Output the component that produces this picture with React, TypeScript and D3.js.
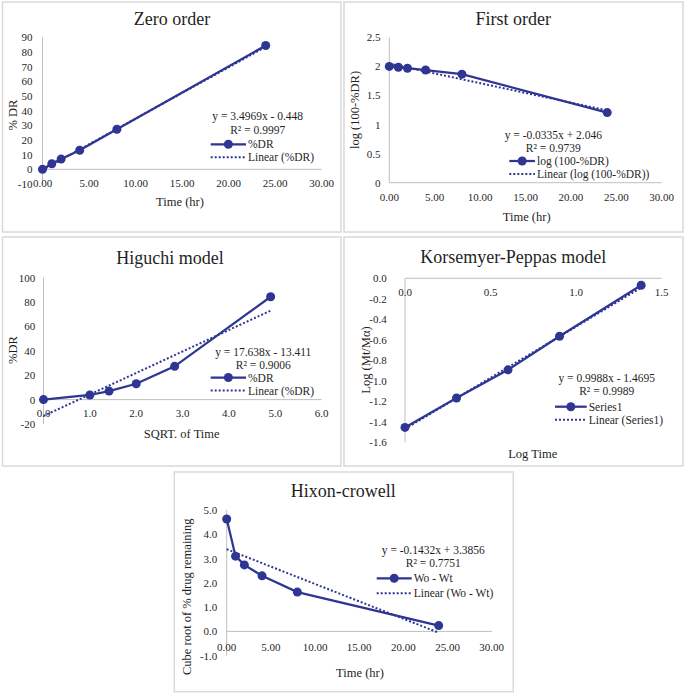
import React from "react";
import * as d3 from "d3";

// ---------- data ----------
const timeHr = [0, 1, 2, 4, 8, 24];
const zeroOrderDR = [0, 3.8, 7, 13, 27.3, 84.4];
const zeroOrderFit = [3.4969, -0.448];

const firstOrderLog = [2.0, 1.985, 1.968, 1.937, 1.866, 1.205];
const firstOrderFit = [-0.0335, 2.046];

const sqrtTime = [0, 1, 1.414, 2, 2.828, 4.899];
const higuchiDR = [0, 3.8, 7, 13, 27.3, 84.4];
const higuchiFit = [17.638, -13.411];

const logTime = [0, 0.301, 0.602, 0.903, 1.38];
const peppasLogFrac = [-1.455, -1.168, -0.893, -0.565, -0.068];
const peppasFit = [0.9988, -1.4695];

const hixonCubeRoot = [4.63, 3.1, 2.74, 2.29, 1.62, 0.24];
const hixonFit = [-0.1432, 3.3856];

const ticks30 = [0, 5, 10, 15, 20, 25, 30];
const ticksZeroY = [-10, 0, 10, 20, 30, 40, 50, 60, 70, 80, 90];
const ticksFirstY = [0, 0.5, 1, 1.5, 2, 2.5];
const ticksHigX = [0, 1, 2, 3, 4, 5, 6];
const ticksHigY = [-20, 0, 20, 40, 60, 80, 100];
const ticksPepX = [0, 0.5, 1, 1.5];
const ticksPepY = [-1.6, -1.4, -1.2, -1.0, -0.8, -0.6, -0.4, -0.2, 0.0];
const ticksHixY = [-1, 0, 1, 2, 3, 4, 5];

const BLUE = "#2e3592";
const TXT = "#1f1f1f";
const FONT = "'Liberation Serif', 'Times New Roman', serif";

type Cfg = {
  box: [number, number, number, number];
  title: string;
  titleX: number;
  titleY: number;
  xDomain: [number, number];
  xRange: [number, number];
  yDomain: [number, number];
  yRange: [number, number];
  xTicks: number[];
  xFmt: (v: number) => string;
  yTicks: number[];
  yFmt: (v: number) => string;
  xLabelOffset: number;
  yLabelGap: number;
  xTitle: string;
  xTitlePos: [number, number];
  yTitle: string;
  yTitlePos: [number, number];
  xs: number[];
  ys: number[];
  fit: number[];
  eq: string;
  r2: string;
  eqPos: [number, number];
  r2Y: number;
  legX: [number, number];
  legY: [number, number];
  name: string;
  trendName: string;
};

function Panel({ c }: { c: Cfg }) {
  const x = d3.scaleLinear().domain(c.xDomain).range(c.xRange);
  const y = d3.scaleLinear().domain(c.yDomain).range(c.yRange);
  const line = d3
    .line<number>()
    .x((_, i) => x(c.xs[i]))
    .y((d) => y(d));
  const xmin = d3.min(c.xs) as number;
  const xmax = d3.max(c.xs) as number;
  const trend = d3
    .line<number>()
    .x((d) => x(d))
    .y((d) => y(c.fit[0] * d + c.fit[1]));
  const [bx0, by0, bx1, by1] = c.box;
  const y0 = y(0);
  const ax = x(0);
  return (
    <g fontFamily={FONT} fill={TXT}>
      <rect x={bx0} y={by0} width={bx1 - bx0} height={by1 - by0} fill="#fff" stroke="#d9d9d9" strokeWidth={1.5} />
      <text x={c.titleX} y={c.titleY} fontSize={18} textAnchor="middle" dominantBaseline="central">
        {c.title}
      </text>
      {/* axes */}
      <line x1={ax} x2={ax} y1={c.yRange[0]} y2={c.yRange[1]} stroke="#bfbfbf" strokeWidth={1} />
      <line x1={c.xRange[0]} x2={c.xRange[1]} y1={y0} y2={y0} stroke="#bfbfbf" strokeWidth={1} />
      {c.yTicks.map((t) => (
        <text key={"y" + t} x={ax - c.yLabelGap} y={y(t)} fontSize={11} textAnchor="end" dominantBaseline="central">
          {c.yFmt(t)}
        </text>
      ))}
      {c.xTicks.map((t) => (
        <text key={"x" + t} x={x(t)} y={y0 + c.xLabelOffset} fontSize={11} textAnchor="middle" dominantBaseline="central">
          {c.xFmt(t)}
        </text>
      ))}
      {/* trend */}
      <path d={trend([xmin, xmax]) || ""} fill="none" stroke={BLUE} strokeWidth={2} strokeDasharray="2 2" />
      {/* series */}
      <path d={line(c.ys) || ""} fill="none" stroke={BLUE} strokeWidth={2.25} />
      {c.ys.map((v, i) => (
        <circle key={i} cx={x(c.xs[i])} cy={y(v)} r={4.5} fill={BLUE} />
      ))}
      {/* axis titles */}
      <text x={c.xTitlePos[0]} y={c.xTitlePos[1]} fontSize={12.5} textAnchor="middle" dominantBaseline="central">
        {c.xTitle}
      </text>
      <text
        transform={`translate(${c.yTitlePos[0]},${c.yTitlePos[1]}) rotate(-90)`}
        fontSize={12.5}
        textAnchor="middle"
        dominantBaseline="central"
      >
        {c.yTitle}
      </text>
      {/* equation */}
      <text x={c.eqPos[0]} y={c.eqPos[1]} fontSize={11.5} textAnchor="middle" dominantBaseline="central">
        {c.eq}
      </text>
      <text x={c.eqPos[0]} y={c.r2Y} fontSize={11.5} textAnchor="middle" dominantBaseline="central">
        {c.r2}
      </text>
      {/* legend */}
      <line x1={c.legX[0]} x2={c.legX[1]} y1={c.legY[0]} y2={c.legY[0]} stroke={BLUE} strokeWidth={2.25} />
      <circle cx={(c.legX[0] + c.legX[1]) / 2} cy={c.legY[0]} r={4.5} fill={BLUE} />
      <text x={c.legX[1] + 2} y={c.legY[0]} fontSize={11.5} dominantBaseline="central">
        {c.name}
      </text>
      <line x1={c.legX[0]} x2={c.legX[1]} y1={c.legY[1]} y2={c.legY[1]} stroke={BLUE} strokeWidth={2} strokeDasharray="2 2" />
      <text x={c.legX[1] + 2} y={c.legY[1]} fontSize={11.5} dominantBaseline="central">
        {c.trendName}
      </text>
    </g>
  );
}

const f2 = (v: number) => v.toFixed(2);
const f1 = (v: number) => v.toFixed(1);
const f0 = (v: number) => String(v);

const panels: Cfg[] = [
  {
    box: [2.5, 2, 341, 232],
    title: "Zero order",
    titleX: 172,
    titleY: 18.5,
    xDomain: [0, 30],
    xRange: [42.5, 321.5],
    yDomain: [-10, 90],
    yRange: [184, 37.3],
    xTicks: ticks30,
    xFmt: f2,
    yTicks: ticksZeroY,
    yFmt: f0,
    xLabelOffset: 13.5,
    yLabelGap: 10,
    xTitle: "Time (hr)",
    xTitlePos: [180, 201.5],
    yTitle: "% DR",
    yTitlePos: [12.7, 115],
    xs: timeHr,
    ys: zeroOrderDR,
    fit: zeroOrderFit,
    eq: "y = 3.4969x - 0.448",
    r2: "R² = 0.9997",
    eqPos: [257.7, 116.2],
    r2Y: 129.5,
    legX: [210.7, 246],
    legY: [144.3, 157.3],
    name: "%DR",
    trendName: "Linear (%DR)",
  },
  {
    box: [344, 2, 683, 232],
    title: "First order",
    titleX: 513.3,
    titleY: 18.5,
    xDomain: [0, 30],
    xRange: [389.3, 661.7],
    yDomain: [0, 2.5],
    yRange: [182.7, 37.3],
    xTicks: ticks30,
    xFmt: f2,
    yTicks: ticksFirstY,
    yFmt: f0,
    xLabelOffset: 14,
    yLabelGap: 8.7,
    xTitle: "Time (hr)",
    xTitlePos: [526.7, 216.7],
    yTitle: "log (100-%DR)",
    yTitlePos: [355, 110],
    xs: timeHr,
    ys: firstOrderLog,
    fit: firstOrderFit,
    eq: "y = -0.0335x + 2.046",
    r2: "R² = 0.9739",
    eqPos: [553.3, 134.5],
    r2Y: 147.5,
    legX: [509.3, 535],
    legY: [161, 174],
    name: "log (100-%DR)",
    trendName: "Linear (log (100-%DR))",
  },
  {
    box: [2.5, 237, 341, 466],
    title: "Higuchi model",
    titleX: 170,
    titleY: 258.3,
    xDomain: [0, 6],
    xRange: [43.5, 321.7],
    yDomain: [-20, 100],
    yRange: [424, 277.7],
    xTicks: ticksHigX,
    xFmt: f1,
    yTicks: ticksHigY,
    yFmt: f0,
    xLabelOffset: 13.7,
    yLabelGap: 8.3,
    xTitle: "SQRT. of Time",
    xTitlePos: [181.7, 434],
    yTitle: "%DR",
    yTitlePos: [12.7, 350],
    xs: sqrtTime,
    ys: higuchiDR,
    fit: higuchiFit,
    eq: "y = 17.638x - 13.411",
    r2: "R² = 0.9006",
    eqPos: [263.3, 352.2],
    r2Y: 365.2,
    legX: [210.7, 246],
    legY: [377.5, 390.5],
    name: "%DR",
    trendName: "Linear (%DR)",
  },
  {
    box: [344, 237, 683, 466],
    title: "Korsemyer-Peppas model",
    titleX: 513.3,
    titleY: 257.3,
    xDomain: [0, 1.5],
    xRange: [405, 661.7],
    yDomain: [-1.6, 0],
    yRange: [442.3, 278.3],
    xTicks: ticksPepX,
    xFmt: f1,
    yTicks: ticksPepY,
    yFmt: f1,
    xLabelOffset: 13.4,
    yLabelGap: 18.3,
    xTitle: "Log Time",
    xTitlePos: [532.7, 454],
    yTitle: "Log (Mt/Mα)",
    yTitlePos: [366, 360],
    xs: logTime,
    ys: peppasLogFrac,
    fit: peppasFit,
    eq: "y = 0.9988x - 1.4695",
    r2: "R² = 0.9989",
    eqPos: [606.7, 378.3],
    r2Y: 391.3,
    legX: [555, 586.7],
    legY: [406.7, 419.7],
    name: "Series1",
    trendName: "Linear (Series1)",
  },
  {
    box: [174.3, 472, 513.3, 691.7],
    title: "Hixon-crowell",
    titleX: 343.3,
    titleY: 491,
    xDomain: [0, 30],
    xRange: [226.7, 491.7],
    yDomain: [-1, 5],
    yRange: [655.7, 510],
    xTicks: ticks30,
    xFmt: f2,
    yTicks: ticksHixY,
    yFmt: f1,
    xLabelOffset: 16,
    yLabelGap: 9.4,
    xTitle: "Time (hr)",
    xTitlePos: [360, 673.3],
    yTitle: "Cube root of % drug remaining",
    yTitlePos: [187.3, 596.7],
    xs: timeHr,
    ys: hixonCubeRoot,
    fit: hixonFit,
    eq: "y = -0.1432x + 3.3856",
    r2: "R² = 0.7751",
    eqPos: [433.3, 549.5],
    r2Y: 562.5,
    legX: [376.7, 411.7],
    legY: [578.3, 593.3],
    name: "Wo - Wt",
    trendName: "Linear (Wo - Wt)",
  },
];

export default function App() {
  return (
    <svg
      width={685}
      height={695}
      style={{ position: "absolute", left: 0, top: 0, background: "#fff" }}
    >
      <rect x={0} y={0} width={685} height={695} fill="#fff" />
      {panels.map((c) => (
        <Panel key={c.title} c={c} />
      ))}
    </svg>
  );
}
